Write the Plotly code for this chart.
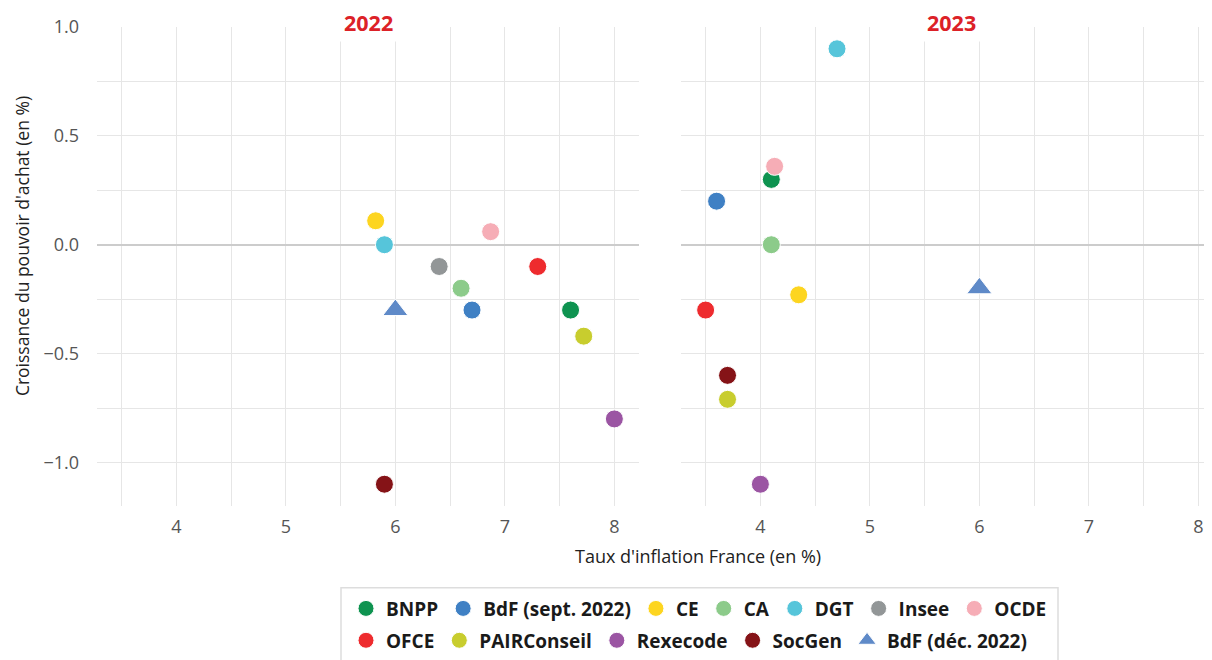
import plotly.graph_objects as go

# ---- data ----
institutes = ["BNPP", "BdF (sept. 2022)", "CE", "CA", "DGT", "Insee", "OCDE",
              "OFCE", "PAIRConseil", "Rexecode", "SocGen", "BdF (déc. 2022)"]
colors = ["#0e9350", "#3f80c4", "#fdd520", "#8ccb8a", "#56c5da", "#929697", "#f6adb6",
          "#ee2b2e", "#c8cd2e", "#9b55a3", "#851317", "#5f8ac8"]
symbols = ["circle"] * 11 + ["triangle-up"]

infl_2022 = [7.6, 6.7, 5.82, 6.6, 5.9, 6.4, 6.87, 7.3, 7.72, 8.0, 5.9, 6.0]
pa_2022 = [-0.3, -0.3, 0.11, -0.2, 0.0, -0.1, 0.06, -0.1, -0.42, -0.8, -1.1, -0.3]

infl_2023 = [4.1, 3.6, 4.35, 4.1, 4.7, None, 4.13, 3.5, 3.7, 4.0, 3.7, 6.0]
pa_2023 = [0.3, 0.2, -0.23, 0.0, 0.9, None, 0.36, -0.3, -0.71, -1.1, -0.6, -0.2]

years = ["2022", "2023"]
row1 = institutes[:7]

FONT = "Open Sans"
OFF = 8  # page body margin
W, H = 1204, 652
ML, MR, MT, MB = 89, 0, 19, 152
PW = W - ML - MR
PH = H - MT - MB


def px2x(px):  # page x -> paper x
    return (px - OFF - ML) / PW


def py2y(py):  # page y -> paper y
    return (H - MB - (py - OFF)) / PH


fig = go.Figure()

for i, name in enumerate(institutes):
    leg = "legend" if name in row1 else "legend2"
    for k, (xs, ys) in enumerate([(infl_2022, pa_2022), (infl_2023, pa_2023)]):
        if xs[i] is None:
            continue
        fig.add_trace(go.Scatter(
            x=[xs[i]], y=[ys[i]], mode="markers", name=name,
            legendgroup=name, showlegend=(k == 0), legend=leg,
            marker=dict(color=colors[i], symbol=symbols[i],
                        size=18 if symbols[i] == "circle" else 22,
                        line=dict(color="white", width=1)),
            xaxis="x" if k == 0 else "x2", yaxis="y" if k == 0 else "y2",
            hovertemplate=name + "<br>%{x}<br>%{y}<extra></extra>",
        ))

grid = "#e6e6e6"
xcommon = dict(tickvals=[4, 5, 6, 7, 8], showgrid=True, gridcolor=grid, gridwidth=1,
               minor=dict(dtick=0.5, tick0=3.5, showgrid=True, gridcolor=grid, gridwidth=1),
               zeroline=False, showline=False, ticks="",
               tickfont=dict(family=FONT, size=18, color="#555555"),
               ticklabelstandoff=8)
ycommon = dict(range=[-1.2, 1.0], tickvals=[-1.0, -0.5, 0.0, 0.5, 1.0], tickformat=".1f",
               showgrid=True, gridcolor=grid, gridwidth=1,
               minor=dict(dtick=0.25, tick0=0, showgrid=True, gridcolor=grid, gridwidth=1),
               zeroline=True, zerolinecolor="#cccccc", zerolinewidth=2,
               showline=False, ticks="",
               tickfont=dict(family=FONT, size=18, color="#555555"))

legfont = dict(family=FONT, size=19, color="#1a1a1a", weight="bold")
fig.update_layout(
    width=W, height=H,
    margin=dict(l=ML, r=MR, t=MT, b=MB),
    paper_bgcolor="white", plot_bgcolor="white",
    font=dict(family=FONT, color="#222222"),
    xaxis=dict(domain=[0, px2x(639)], range=[3.275, 8.225], **xcommon),
    xaxis2=dict(domain=[px2x(681), 1.0], range=[3.275, 8.125], anchor="y2", **xcommon),
    yaxis=dict(domain=[0, 1], anchor="x", ticklabelstandoff=17, **ycommon),
    yaxis2=dict(domain=[0, 1], anchor="x2", showticklabels=False, **ycommon),
    legend=dict(orientation="h", x=px2x(346), xanchor="left", y=py2y(611), yanchor="middle",
                font=legfont, borderwidth=0, bgcolor="rgba(0,0,0,0)", itemclick=False),
    legend2=dict(orientation="h", x=px2x(346), xanchor="left", y=py2y(643), yanchor="middle",
                 font=legfont, borderwidth=0, bgcolor="rgba(0,0,0,0)", itemclick=False),
    showlegend=True,
)

# legend frame
fig.add_shape(type="rect", xref="paper", yref="paper",
              x0=px2x(341), x1=px2x(1058), y0=py2y(675), y1=py2y(590),
              line=dict(color="#dddddd", width=1.5), fillcolor="rgba(0,0,0,0)", layer="below")

# facet titles
for k, yr in enumerate(years):
    cx = px2x(368) if k == 0 else px2x(951.5)
    fig.add_annotation(text="<b>" + yr + "</b>", x=cx, y=py2y(22), xref="paper", yref="paper",
                       xanchor="center", yanchor="middle", showarrow=False,
                       font=dict(family=FONT, size=21.5, color="#dc2127"),
                       bgcolor="white", borderpad=4)

# axis titles
fig.add_annotation(text="Taux d'inflation France (en %)", x=px2x(698), y=py2y(558),
                   xref="paper", yref="paper", xanchor="center", yanchor="middle",
                   showarrow=False, font=dict(family=FONT, size=18, color="#222222"))
fig.add_annotation(text="Croissance du pouvoir d'achat (en %)", x=px2x(22), y=py2y(247),
                   xref="paper", yref="paper", xanchor="center", yanchor="middle",
                   textangle=-90, showarrow=False, font=dict(family=FONT, size=17.5, color="#222222"))

fig.write_html("out.html")
